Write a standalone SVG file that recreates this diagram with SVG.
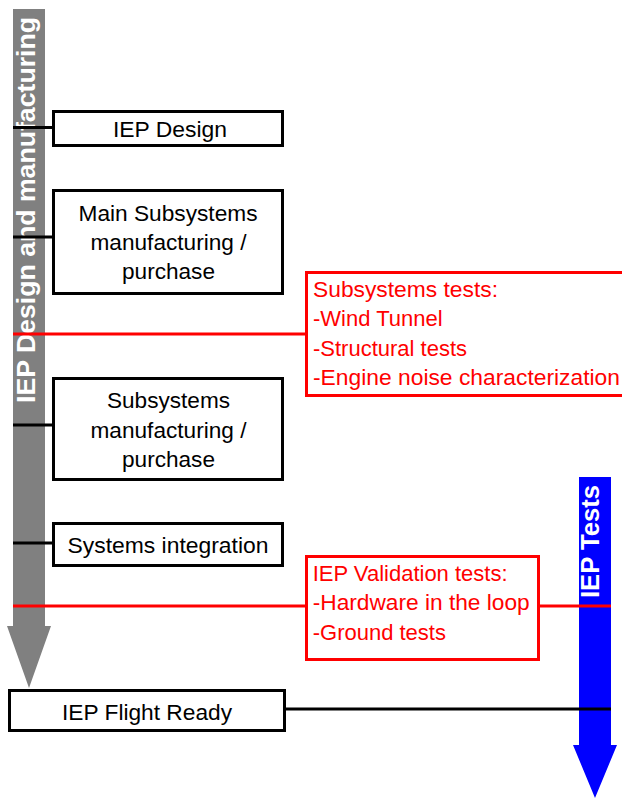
<svg xmlns="http://www.w3.org/2000/svg" width="622" height="799" viewBox="0 0 622 799">
<style>
.box{fill:#fff;stroke:#000;stroke-width:3}
.rbox{fill:#fff;stroke:#f00;stroke-width:3}
.t{font-family:"Liberation Sans",Arial,sans-serif;font-size:22px;fill:#000}
.c{text-anchor:middle}
.r{font-family:"Liberation Sans",Arial,sans-serif;font-size:22px;fill:#f00}
.w{font-family:"Liberation Sans",Arial,sans-serif;font-size:25px;font-weight:bold;fill:#fff}
.bl{stroke:#000;stroke-width:3;fill:none}
.rl{stroke:#f00;stroke-width:3;fill:none}
</style>
<rect width="622" height="799" fill="#fff"/>
<g id="design-arrow">
<polygon points="13,9 45,9 45,626 51,626 29,688 7,626 13,626" fill="#808080"/>
<text class="w" transform="translate(35,403) rotate(-90)" textLength="386" lengthAdjust="spacingAndGlyphs">IEP Design and manufacturing</text>
</g>
<g id="tests-arrow">
<polygon points="579,477 611,477 611,745 617,745 595,798 573,745 579,745" fill="#0000ff"/>
<text class="w" transform="translate(599,598) rotate(-90)" textLength="113" lengthAdjust="spacingAndGlyphs">IEP Tests</text>
</g>
<g id="connectors">
<line class="bl" x1="13" y1="127.5" x2="53" y2="127.5"/>
<line class="bl" x1="13" y1="237" x2="53" y2="237"/>
<line class="rl" x1="13" y1="334" x2="306" y2="334"/>
<line class="bl" x1="13" y1="425" x2="53" y2="425"/>
<line class="bl" x1="13" y1="543" x2="53" y2="543"/>
<line class="rl" x1="13" y1="606" x2="306" y2="606"/>
<line class="rl" x1="539" y1="606" x2="611" y2="606"/>
<line class="bl" x1="286" y1="709" x2="611" y2="709"/>
</g>
<g id="iep-design">
<rect class="box" x="53.5" y="111.5" width="229" height="34"/>
<text class="t c" x="170" y="137" textLength="114" lengthAdjust="spacingAndGlyphs">IEP Design</text>
</g>
<g id="main-subsystems">
<rect class="box" x="53.5" y="190.5" width="229" height="103"/>
<text class="t c" x="168" y="221" textLength="179" lengthAdjust="spacingAndGlyphs">Main Subsystems</text>
<text class="t c" x="168.5" y="250" textLength="156" lengthAdjust="spacingAndGlyphs">manufacturing /</text>
<text class="t c" x="168.5" y="279" textLength="93" lengthAdjust="spacingAndGlyphs">purchase</text>
</g>
<g id="subsystems-tests">
<rect class="rbox" x="306.5" y="272.5" width="320" height="123"/>
<text class="r" x="313" y="297" textLength="185" lengthAdjust="spacingAndGlyphs">Subsystems tests:</text>
<text class="r" x="313" y="326">-Wind Tunnel</text>
<text class="r" x="313" y="356">-Structural tests</text>
<text class="r" x="313" y="385" textLength="307" lengthAdjust="spacingAndGlyphs">-Engine noise characterization</text>
</g>
<g id="subsystems">
<rect class="box" x="53.5" y="378.5" width="229" height="101"/>
<text class="t c" x="168.5" y="408" textLength="123" lengthAdjust="spacingAndGlyphs">Subsystems</text>
<text class="t c" x="168.5" y="438" textLength="156" lengthAdjust="spacingAndGlyphs">manufacturing /</text>
<text class="t c" x="168.5" y="467" textLength="93" lengthAdjust="spacingAndGlyphs">purchase</text>
</g>
<g id="systems-integration">
<rect class="box" x="53.5" y="523.5" width="229" height="42"/>
<text class="t c" x="168" y="553" textLength="201" lengthAdjust="spacingAndGlyphs">Systems integration</text>
</g>
<g id="validation-tests">
<rect class="rbox" x="306.5" y="556.5" width="232" height="103"/>
<text class="r" x="312.7" y="581">IEP Validation tests:</text>
<text class="r" x="312.7" y="610" textLength="217" lengthAdjust="spacingAndGlyphs">-Hardware in the loop</text>
<text class="r" x="312.7" y="640">-Ground tests</text>
</g>
<g id="flight-ready">
<rect class="box" x="9.5" y="690.5" width="275" height="40"/>
<text class="t c" x="147" y="720" textLength="170" lengthAdjust="spacingAndGlyphs">IEP Flight Ready</text>
</g>
</svg>
